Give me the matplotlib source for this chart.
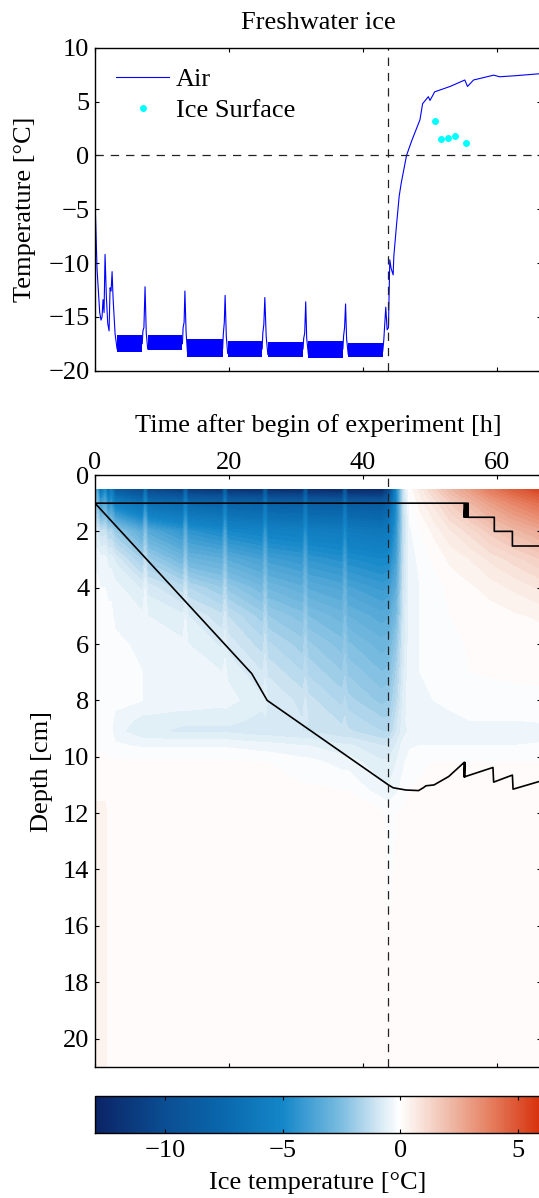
import numpy as np
import matplotlib.pyplot as plt
from matplotlib.colors import LinearSegmentedColormap, Normalize
from matplotlib.cm import ScalarMappable

plt.rcParams['font.family'] = ['Liberation Serif', 'DejaVu Serif']
plt.rcParams['font.size'] = 19
plt.rcParams['lines.scale_dashes'] = False
plt.rcParams['axes.linewidth'] = 1.0

W, H = 539, 1198

# Lufttemperatur in der Kältekammer (Zeit [h], Temperatur [°C])
air_time = [0, 0.3, 0.7, 0.9, 1.05, 1.2, 1.35, 1.5, 1.7, 1.9, 2.1, 2.25, 2.4, 2.55, 2.7, 3.0, 3.3,
            7.05, 7.15, 7.3, 7.47, 7.65, 7.87,
            13.05, 13.15, 13.3, 13.42, 13.6, 13.8,
            19.05, 19.15, 19.3, 19.42, 19.6, 19.8,
            24.95, 25.05, 25.2, 25.35, 25.55, 25.8,
            31.05, 31.15, 31.3, 31.45, 31.6, 31.85,
            37.0, 37.1, 37.25, 37.4, 37.55, 37.8,
            42.95, 43.1, 43.4, 43.6, 43.8, 44.0, 44.2, 44.5, 44.6, 45.0, 45.4, 45.7,
            46.5, 47.3, 48.5, 48.9, 49.75, 50.0, 50.7, 53.0, 55.2, 55.6, 56.5, 59.5,
            60.4, 62.8, 66.7]
air_temp = [-4.0, -10.5, -14.6, -15.3, -15.0, -13.4, -14.6, -9.2, -13.2, -15.6, -16.3, -12.3, -12.6, -10.8, -13.3, -16.6, -18.0,
            -17.5, -16.3, -16.0, -12.2, -16.5, -18.0,
            -17.5, -16.0, -15.5, -12.6, -16.5, -18.3,
            -18.0, -16.6, -15.5, -13.0, -16.8, -18.4,
            -18.0, -16.5, -15.7, -13.2, -16.8, -18.5,
            -18.0, -17.0, -16.5, -13.6, -17.0, -18.5,
            -18.0, -16.8, -16.0, -13.8, -17.0, -18.5,
            -18.2, -17.2, -14.1, -16.2, -16.0, -9.7, -10.5, -11.1, -9.4, -6.5, -3.8, -2.6,
            0.0, 1.4, 3.3, 4.8, 5.45, 5.1, 5.9, 6.4, 7.0, 6.4, 7.0, 7.45,
            7.3, 7.4, 7.6]

# Schwankungsbreite der Luftmessung während der Kältephase
noise_start = [3.3, 7.9, 13.8, 19.8, 25.8, 31.85, 37.8]
noise_end = [7.05, 13.05, 19.05, 24.95, 31.05, 37.0, 42.95]
noise_low = [-18.25, -18.05, -18.7, -18.7, -18.7, -18.8, -18.7]
noise_high = [-16.7, -16.7, -17.1, -17.25, -17.3, -17.25, -17.4]

# Temperatur der Eisoberfläche
surf_time = [50.75, 51.7, 52.7, 53.7, 55.4]
surf_temp = [3.2, 1.48, 1.57, 1.79, 1.11]

warm_start = 43.8

# Temperaturprofile im Eis: Tiefe [cm] x Zeitpunkte [h]
depth_levels = [0.5, 1, 2, 3, 4, 5, 6, 7, 8, 8.7, 9.1, 9.6, 10.2, 11.2, 12, 21]
profile_times = [0.0, 0.3, 0.8, 1.5, 2.0, 2.4, 3.0, 7.1, 7.5, 7.9, 13.1, 13.5, 13.9,
                 19.0, 19.4, 19.8, 25.0, 25.4, 25.8, 31.0, 31.4, 31.8, 36.9, 37.3, 37.7,
                 42.8, 43.9, 45.0, 46.0, 47.0, 48.5, 50.5, 53.0, 56.0, 59.0, 62.5, 66.7]
ice_temp_profiles = [
    [-5.0, -3.0, -0.8, -0.3, -0.2, -0.15, -0.1, -0.1, -0.1, -0.1, -0.1, -0.05, 0.1, 0.2, 0.3, 0.3],
    [-3.5, -2.4, -0.8, -0.3, -0.2, -0.15, -0.1, -0.1, -0.1, -0.1, -0.1, -0.05, 0.1, 0.2, 0.3, 0.3],
    [-7.0, -4.2, -1.2, -0.4, -0.25, -0.2, -0.1, -0.1, -0.1, -0.2, -0.2, -0.1, 0.1, 0.2, 0.3, 0.3],
    [-5.0, -3.4, -1.1, -0.4, -0.25, -0.2, -0.15, -0.1, -0.1, -0.2, -0.2, -0.1, 0.1, 0.2, 0.3, 0.3],
    [-8.0, -5.0, -1.6, -0.6, -0.3, -0.2, -0.15, -0.15, -0.15, -0.2, -0.2, -0.1, 0.05, 0.1, 0.2, 0.2],
    [-6.0, -4.2, -1.5, -0.6, -0.3, -0.2, -0.15, -0.15, -0.15, -0.2, -0.2, -0.1, 0.05, 0.1, 0.15, 0.15],
    [-8.8, -5.6, -2.0, -0.8, -0.4, -0.3, -0.2, -0.2, -0.2, -0.3, -0.4, -0.2, 0.05, 0.05, 0.1, 0.1],
    [-10.5, -6.8, -3.3, -1.8, -0.8, -0.45, -0.3, -0.25, -0.25, -0.6, -0.7, -0.3, 0.05, 0.05, 0.05, 0.05],
    [-7.0, -4.8, -2.3, -1.2, -0.5, -0.35, -0.3, -0.25, -0.25, -0.6, -0.7, -0.3, 0.05, 0.05, 0.05, 0.05],
    [-10.6, -6.9, -3.4, -1.9, -0.85, -0.5, -0.3, -0.25, -0.25, -0.6, -0.7, -0.3, 0.05, 0.05, 0.05, 0.05],
    [-11.5, -7.4, -4.3, -2.8, -1.4, -0.7, -0.45, -0.3, -0.3, -0.7, -0.8, -0.3, 0.05, 0.05, 0.05, 0.05],
    [-8.0, -5.4, -3.2, -2.0, -1.0, -0.5, -0.35, -0.3, -0.3, -0.7, -0.8, -0.3, 0.05, 0.05, 0.05, 0.05],
    [-11.6, -7.5, -4.4, -2.9, -1.5, -0.75, -0.5, -0.3, -0.3, -0.7, -0.8, -0.3, 0.05, 0.05, 0.05, 0.05],
    [-12.0, -7.8, -4.9, -3.2, -2.0, -1.2, -0.8, -0.5, -0.4, -0.7, -0.8, -0.3, 0.05, 0.05, 0.05, 0.05],
    [-8.5, -5.8, -3.7, -2.4, -1.5, -0.9, -0.6, -0.4, -0.35, -0.7, -0.8, -0.3, 0.05, 0.05, 0.05, 0.05],
    [-12.0, -7.9, -5.0, -3.3, -2.1, -1.25, -0.85, -0.55, -0.4, -0.7, -0.8, -0.3, 0.05, 0.05, 0.05, 0.05],
    [-12.3, -8.1, -5.3, -3.8, -2.7, -1.9, -1.4, -1.0, -0.7, -0.8, -0.9, -0.4, 0.0, 0.05, 0.05, 0.05],
    [-9.0, -6.2, -4.2, -3.0, -2.1, -1.5, -1.1, -0.8, -0.55, -0.8, -0.9, -0.4, 0.0, 0.05, 0.05, 0.05],
    [-12.3, -8.2, -5.4, -3.9, -2.8, -2.0, -1.45, -1.05, -0.75, -0.8, -0.9, -0.4, 0.0, 0.05, 0.05, 0.05],
    [-12.5, -8.3, -5.6, -4.2, -3.2, -2.4, -1.9, -1.5, -1.1, -1.0, -1.0, -0.5, -0.15, 0.05, 0.05, 0.05],
    [-9.3, -6.4, -4.5, -3.4, -2.6, -2.0, -1.6, -1.3, -0.95, -0.9, -1.0, -0.5, -0.15, 0.05, 0.05, 0.05],
    [-12.5, -8.4, -5.7, -4.3, -3.3, -2.5, -1.95, -1.55, -1.15, -1.0, -1.0, -0.5, -0.15, 0.05, 0.05, 0.05],
    [-12.7, -8.5, -5.9, -4.6, -3.6, -2.9, -2.4, -2.0, -1.6, -1.3, -1.2, -0.7, -0.35, 0.0, 0.05, 0.05],
    [-9.6, -6.6, -4.8, -3.8, -3.0, -2.5, -2.1, -1.8, -1.45, -1.2, -1.2, -0.7, -0.35, 0.0, 0.05, 0.05],
    [-12.7, -8.6, -6.0, -4.7, -3.7, -3.0, -2.45, -2.05, -1.65, -1.35, -1.2, -0.7, -0.35, 0.0, 0.05, 0.05],
    [-12.8, -8.8, -6.3, -5.0, -4.1, -3.4, -2.9, -2.5, -2.1, -1.7, -1.5, -1.0, -0.7, -0.4, 0.05, 0.05],
    [-11.0, -8.0, -6.0, -4.9, -4.0, -3.3, -2.8, -2.4, -2.0, -1.7, -1.5, -1.0, -0.7, -0.45, -0.05, 0.05],
    [-5.0, -4.8, -4.3, -3.8, -3.2, -2.6, -2.1, -1.7, -1.4, -1.1, -1.0, -0.7, -0.5, -0.3, 0.0, 0.05],
    [-1.2, -1.3, -1.3, -1.2, -1.1, -1.0, -0.9, -0.8, -0.7, -0.6, -0.6, -0.4, -0.3, -0.15, 0.05, 0.05],
    [0.1, -0.1, -0.3, -0.35, -0.35, -0.35, -0.35, -0.3, -0.3, -0.35, -0.45, -0.3, -0.1, 0.0, 0.05, 0.05],
    [0.6, 0.35, 0.0, -0.2, -0.25, -0.25, -0.25, -0.25, -0.25, -0.3, -0.5, -0.25, -0.05, 0.05, 0.05, 0.05],
    [1.3, 0.8, 0.3, 0.05, -0.15, -0.2, -0.2, -0.2, -0.25, -0.3, -0.5, -0.25, 0.0, 0.05, 0.05, 0.05],
    [2.2, 1.5, 0.7, 0.3, 0.08, 0.0, -0.05, -0.1, -0.2, -0.3, -0.5, -0.25, 0.0, 0.05, 0.05, 0.05],
    [3.0, 2.2, 1.1, 0.5, 0.2, 0.05, 0.02, 0.0, -0.15, -0.25, -0.5, -0.25, 0.0, 0.05, 0.05, 0.05],
    [3.9, 2.9, 1.6, 0.8, 0.35, 0.12, 0.05, 0.02, -0.1, -0.25, -0.5, -0.25, 0.0, 0.05, 0.05, 0.05],
    [4.7, 3.6, 2.1, 1.1, 0.55, 0.2, 0.08, 0.05, -0.1, -0.25, -0.5, -0.25, 0.0, 0.05, 0.05, 0.05],
    [5.5, 4.3, 2.6, 1.5, 0.8, 0.3, 0.1, 0.05, -0.05, -0.2, -0.45, -0.2, 0.0, 0.05, 0.05, 0.05],
]

# Eisoberfläche und Eisunterseite [cm]
top_time = [0, 55.1, 55.1, 55.25, 55.25, 55.4, 55.4, 55.55, 55.55, 55.7, 55.7, 59.6, 59.6, 62.3, 62.3, 66.7]
top_depth = [1.0, 1.0, 1.5, 1.0, 1.5, 1.0, 1.5, 1.0, 1.5, 1.0, 1.5, 1.5, 2.0, 2.0, 2.52, 2.52]
bottom_time = [0, 23.4, 25.7, 43.8, 44.5, 46.4, 48.3, 49.0, 49.4, 50.6, 52.8, 55.1,
               55.1, 55.2, 55.2, 55.3, 59.4, 59.5, 62.3, 62.4, 66.7]
bottom_depth = [1.0, 7.05, 8.0, 11.0, 11.1, 11.18, 11.2, 11.1, 11.03, 11.0, 10.7, 10.2,
                10.72, 10.2, 10.72, 10.7, 10.38, 10.9, 10.65, 11.15, 10.85]

# Farbskala
cmap_values = [-13, -10, -7.5, -5, -2.5, -1, 0, 2, 4, 6]
cmap_colors = ['#0b2466', '#0b4e93', '#0a68ad', '#1487c9', '#7cbde0', '#cfe5f2',
               '#ffffff', '#f0bfae', '#e47a5a', '#d6300a']
cbar_ticks = [-10, -5, 0, 5]
t_min, t_max = -13, 6

norm = Normalize(t_min, t_max)
cmap = LinearSegmentedColormap.from_list(
    'ice', [((v - t_min) / (t_max - t_min), c) for v, c in zip(cmap_values, cmap_colors)])


def px_box(left, top, right, bottom):
    return [left / W, 1 - bottom / H, (right - left) / W, (bottom - top) / H]


def style_ticks(ax):
    ax.tick_params(which='both', direction='in', top=True, bottom=True, left=True, right=True,
                   length=3, width=0.8, pad=4)


xmax = 66.57
dash = (0, (6, 5))

fig = plt.figure(figsize=(W / 100, H / 100), dpi=100)

# --- Lufttemperatur ---
ax1 = fig.add_axes(px_box(95, 47.7, 541, 370.7))
for s, e, lo, hi in zip(noise_start, noise_end, noise_low, noise_high):
    ax1.fill_between([s, e], [lo, lo], [hi, hi], color='#0000ff', lw=0)
ax1.plot(air_time, air_temp, color='#0000ff', lw=0.8, label='Air')
ax1.plot(surf_time, surf_temp, 'o', color='#00ffff', ms=5, mec='none', label='Ice Surface')
ax1.axhline(0, color='#222222', lw=0.9, ls=dash)
ax1.axvline(warm_start, color='#222222', lw=0.9, ls=dash)
ax1.set_xlim(0, xmax)
ax1.set_ylim(-20, 10)
ax1.set_xticks([0, 20, 40, 60])
ax1.set_xticklabels([])
ax1.set_yticks([-20, -15, -10, -5, 0, 5, 10])
style_ticks(ax1)
ax1.legend(loc='upper left', bbox_to_anchor=((115.8 - 95) / 446, 1 - (68 - 47.7) / 323),
           frameon=False, borderpad=0, borderaxespad=0, handlelength=2.03,
           handletextpad=0.25, labelspacing=0.26, numpoints=1)

# --- Eistemperatur ---
ax2 = fig.add_axes(px_box(95, 475, 541, 1066.7))
field = np.array(ice_temp_profiles).T
levels = np.arange(t_min, t_max + 0.01, 0.25)
ax2.contourf(profile_times, depth_levels, field, levels=levels, cmap=cmap, norm=norm)
ax2.plot(top_time, top_depth, color='black', lw=1.2)
ax2.plot(bottom_time, bottom_depth, color='black', lw=1.2)
ax2.axvline(warm_start, color='#222222', lw=0.9, ls=dash)
ax2.set_xlim(0, xmax)
ax2.set_ylim(21, 0)
ax2.set_xticks([0, 20, 40, 60])
ax2.set_yticks(range(0, 21, 2))
style_ticks(ax2)
ax2.tick_params(labeltop=True, labelbottom=False)
ax2.tick_params(axis='x', pad=1)

# --- Farbbalken ---
cax = fig.add_axes(px_box(95, 1095.7, 541, 1133.3))
cb = fig.colorbar(ScalarMappable(norm=norm, cmap=cmap), cax=cax, orientation='horizontal',
                  ticks=cbar_ticks)
cb.outline.set_linewidth(1.0)
cax.tick_params(axis='x', direction='in', top=True, bottom=True, length=3, width=0.8, pad=5)

# --- Beschriftungen ---
fig.text(318 / W, 1 - 29 / H, 'Freshwater ice', ha='center', va='baseline')
fig.text(318 / W, 1 - 432.3 / H, 'Time after begin of experiment [h]', ha='center', va='baseline')
fig.text(318 / W, 1 - 1189 / H, 'Ice temperature [°C]', ha='center', va='baseline')
fig.text(25 / W, 1 - 209 / H, 'Temperature [°C]', rotation=90, ha='center', va='center')
fig.text(42 / W, 1 - 772 / H, 'Depth [cm]', rotation=90, ha='center', va='center')

fig.savefig('out.png', dpi=100)
